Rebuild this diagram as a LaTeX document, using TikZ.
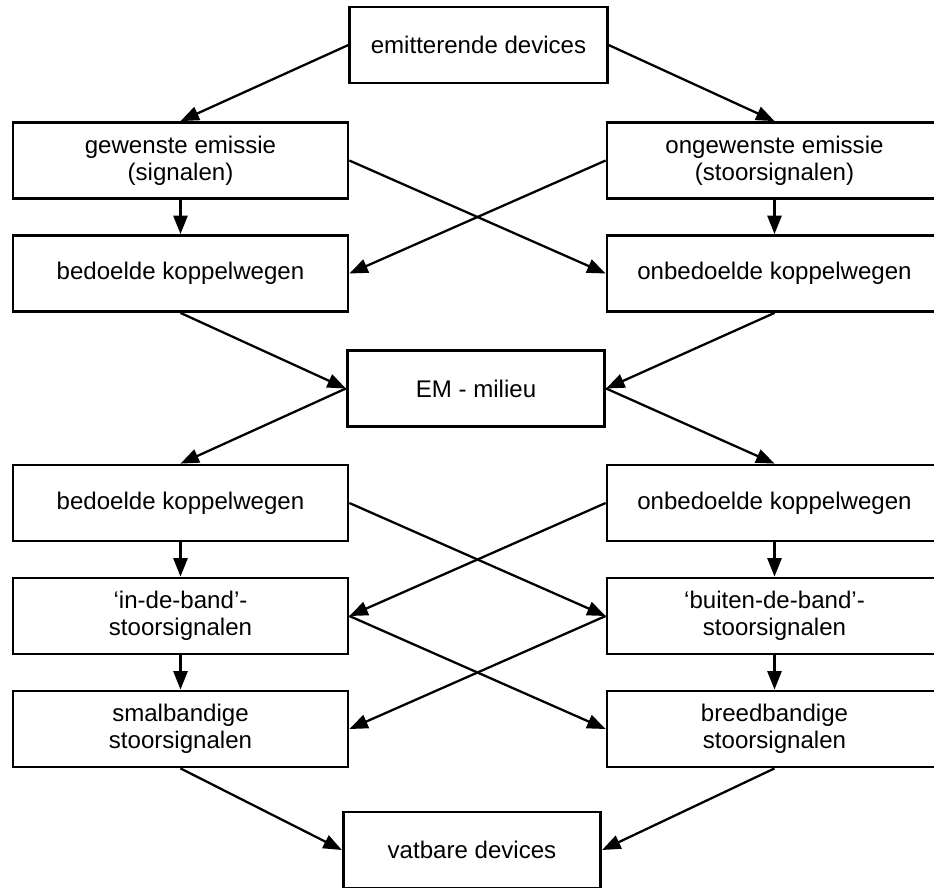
\documentclass[tikz,border=0pt]{standalone}
\usepackage{fontspec}
\setmainfont{Liberation Sans}
\usetikzlibrary{arrows.meta}
\tikzset{every picture/.style={line join=miter}}
\tikzset{
  blok/.style={draw,line width=1.6pt,minimum width=6.7cm,minimum height=1.52cm,
    inner sep=0pt,align=center,font=\fontsize{13.7}{15.5}\selectfont},
  midblok/.style={blok,minimum width=5.15cm},
  pijl/.style={line width=1.3pt,-{Triangle[length=10.5pt,width=8pt]}}
}

\begin{document}
\begin{tikzpicture}[x=0.02cm,y=-0.02cm]
\useasboundingbox (0,0) rectangle (934,887);
% bron en ontvanger
\node[midblok] (emit) at (478.5,45) {emitterende devices};
\node[midblok] (em) at (476,388.5) {EM - milieu};
\node[midblok] (vatb) at (472,850) {vatbare devices};
% linker kolom
\node[blok] (gew) at (180.5,160.5) {gewenste emissie\\(signalen)};
\node[blok] (bkw1) at (180.5,273.5) {bedoelde koppelwegen};
\node[blok] (bkw2) at (180.5,503) {bedoelde koppelwegen};
\node[blok] (inband) at (180.5,616) {‘in-de-band’-\\stoorsignalen};
\node[blok] (smal) at (180.5,729) {smalbandige\\stoorsignalen};
% rechter kolom
\node[blok] (ongew) at (774.5,160.5) {ongewenste emissie\\(stoorsignalen)};
\node[blok] (obkw1) at (774.5,273.5) {onbedoelde koppelwegen};
\node[blok] (obkw2) at (774.5,503) {onbedoelde koppelwegen};
\node[blok] (buiten) at (774.5,616) {‘buiten-de-band’-\\stoorsignalen};
\node[blok] (breed) at (774.5,729) {breedbandige\\stoorsignalen};

\draw[pijl] (emit.west) -- (gew.north);
\draw[pijl] (emit.east) -- (ongew.north);
\draw[pijl] (gew.south) -- (bkw1.north);
\draw[pijl] (ongew.south) -- (obkw1.north);
\draw[pijl] (gew.east) -- (obkw1.west);
\draw[pijl] (ongew.west) -- (bkw1.east);
\draw[pijl] (bkw1.south) -- (em.west);
\draw[pijl] (obkw1.south) -- (em.east);
\draw[pijl] (em.west) -- (bkw2.north);
\draw[pijl] (em.east) -- (obkw2.north);
\draw[pijl] (bkw2.south) -- (inband.north);
\draw[pijl] (obkw2.south) -- (buiten.north);
\draw[pijl] (bkw2.east) -- (buiten.west);
\draw[pijl] (obkw2.west) -- (inband.east);
\draw[pijl] (inband.south) -- (smal.north);
\draw[pijl] (buiten.south) -- (breed.north);
\draw[pijl] (inband.east) -- (breed.west);
\draw[pijl] (buiten.west) -- (smal.east);
\draw[pijl] (smal.south) -- (vatb.west);
\draw[pijl] (breed.south) -- (vatb.east);
\end{tikzpicture}
\end{document}
